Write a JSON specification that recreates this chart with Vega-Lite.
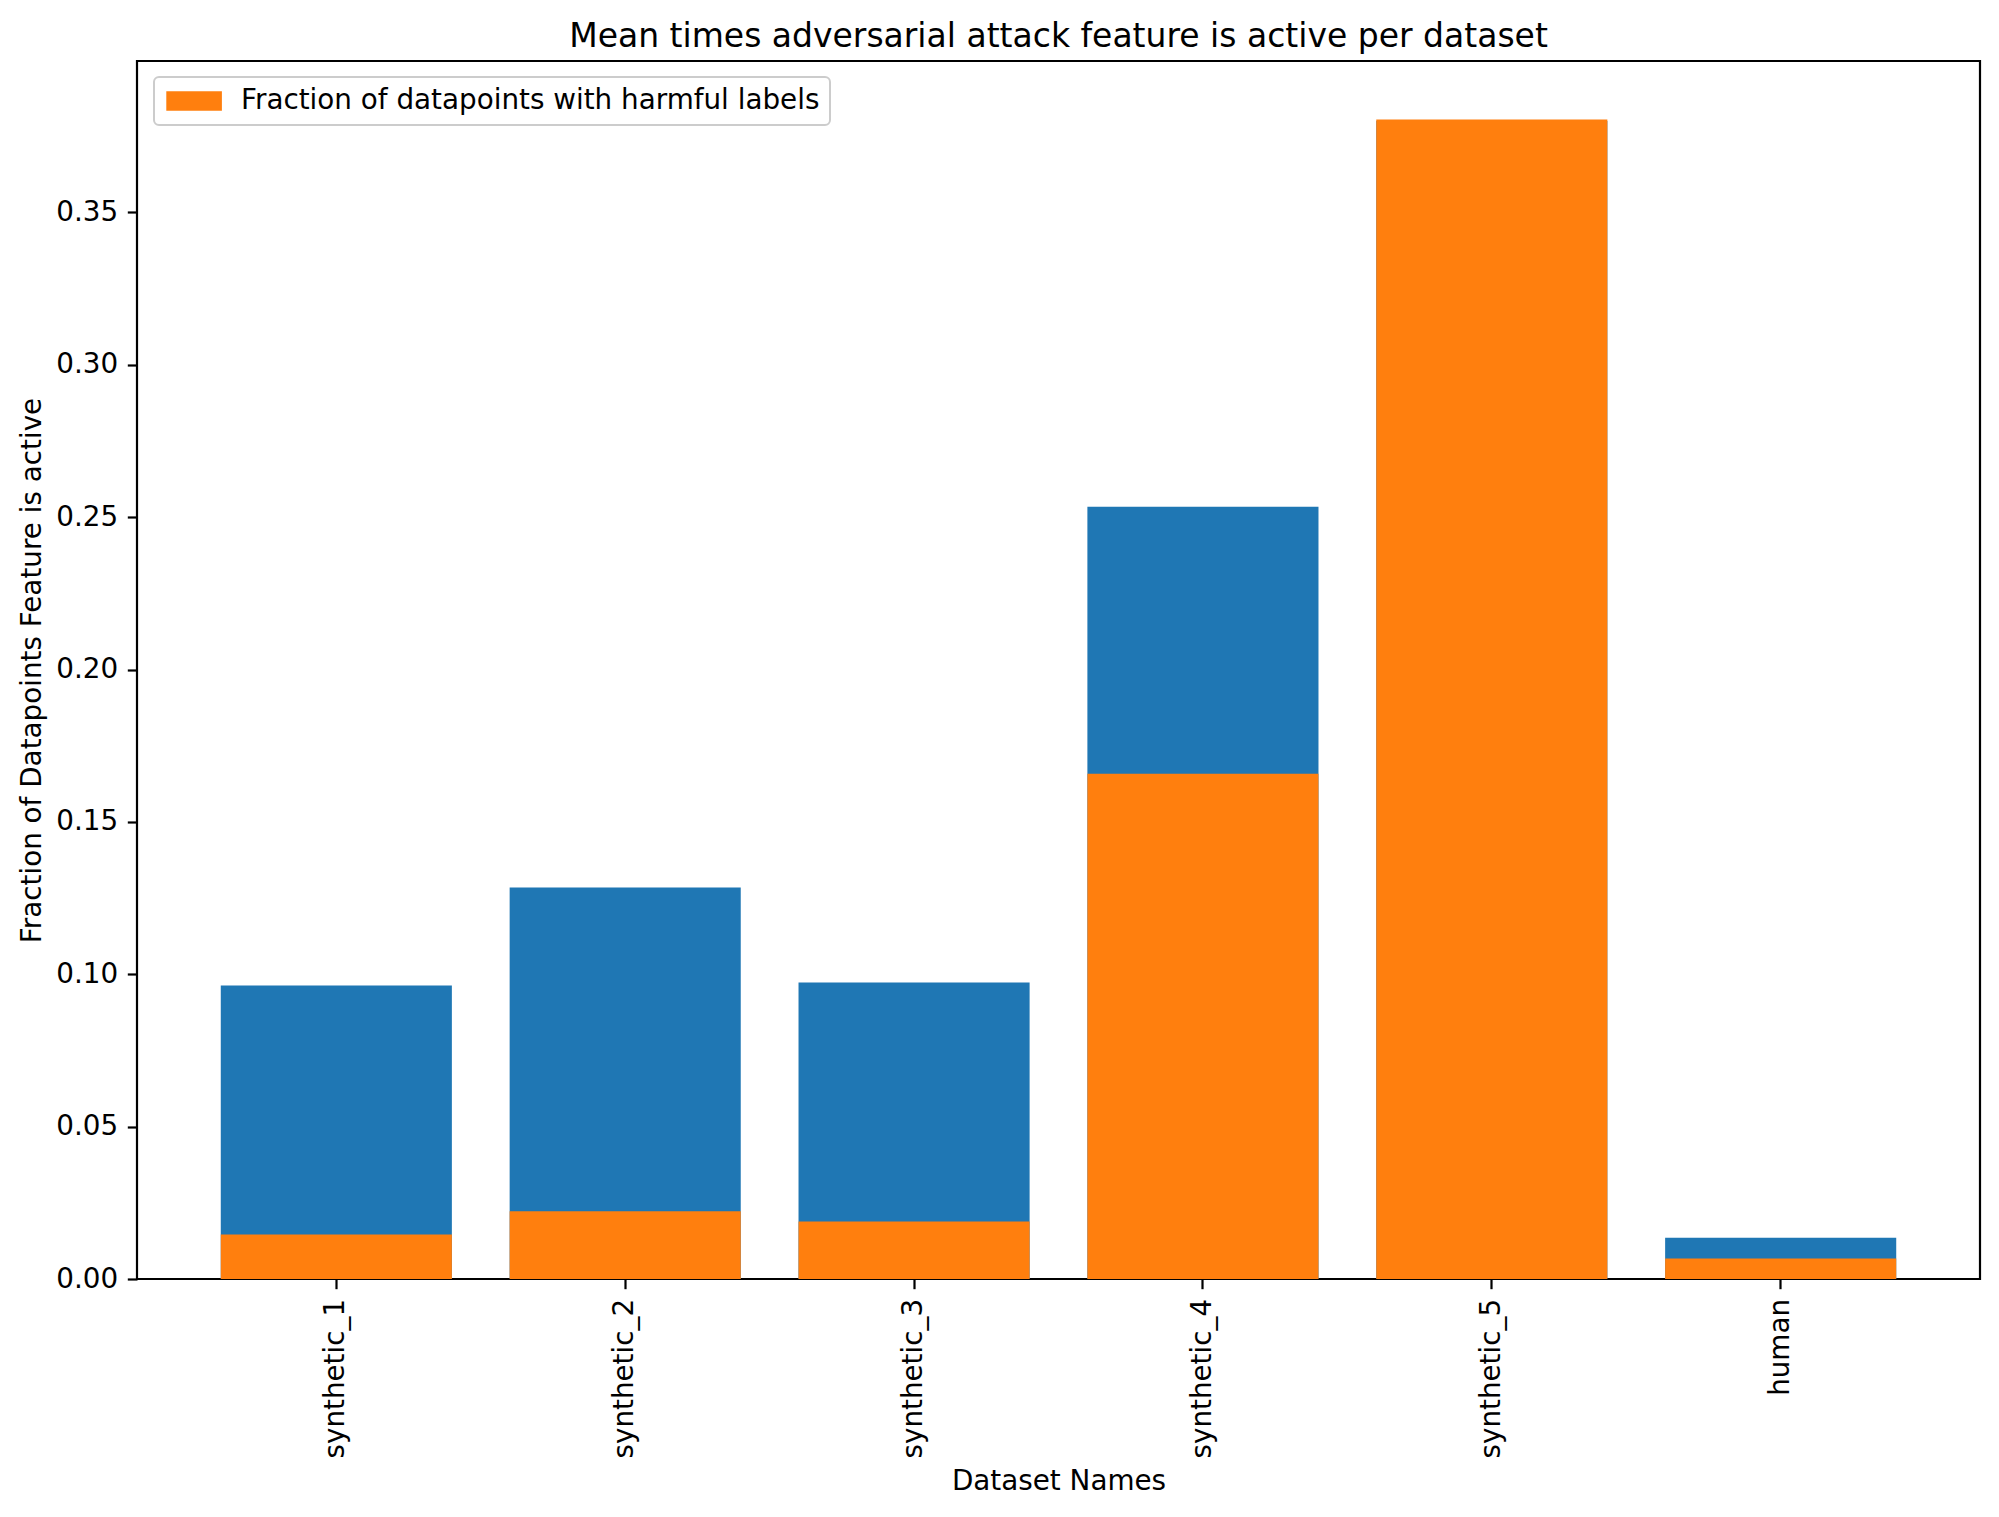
{
  "$schema": "https://vega.github.io/schema/vega-lite/v6.json",
  "width": 1843,
  "height": 1218,
  "autosize": {"type": "none"},
  "padding": {"left": 137, "top": 61, "right": 19, "bottom": 238},
  "background": "white",
  "title": {
    "text": "Mean times adversarial attack feature is active per dataset",
    "font": "DejaVu Sans",
    "fontSize": 33,
    "fontWeight": "normal",
    "color": "black",
    "anchor": "middle",
    "baseline": "alphabetic",
    "offset": -19
  },
  "config": {
    "view": {"stroke": "black", "strokeWidth": 2.2},
    "axis": {
      "labelFont": "DejaVu Sans",
      "titleFont": "DejaVu Sans",
      "labelFontSize": 27.8,
      "titleFontSize": 27.8,
      "labelColor": "black",
      "titleColor": "black",
      "titleFontWeight": "normal",
      "tickColor": "black",
      "tickWidth": 2.2,
      "tickSize": 9.7,
      "labelPadding": 9.7,
      "domain": false,
      "grid": false
    },
    "legend": {"strokeWidth": 2}
  },
  "data": {
    "values": [
      {"dataset": "synthetic_1", "active": 0.0963, "harmful": 0.0146},
      {"dataset": "synthetic_2", "active": 0.1285, "harmful": 0.0222},
      {"dataset": "synthetic_3", "active": 0.0973, "harmful": 0.0189},
      {"dataset": "synthetic_4", "active": 0.2534, "harmful": 0.1658},
      {"dataset": "synthetic_5", "active": 0.38, "harmful": 0.3805},
      {"dataset": "human", "active": 0.0135, "harmful": 0.0067}
    ]
  },
  "encoding": {
    "x": {
      "field": "dataset",
      "type": "nominal",
      "sort": null,
      "scale": {"paddingInner": 0.2, "paddingOuter": 0.29},
      "axis": {"title": "Dataset Names", "labelAngle": 270, "titleY": 202, "titleBaseline": "middle"}
    }
  },
  "layer": [
    {
      "mark": {"type": "bar", "color": "#1f77b4"},
      "encoding": {
        "y": {
          "field": "active",
          "type": "quantitative",
          "scale": {"domain": [0, 0.3997], "nice": false, "zero": true},
          "axis": {
            "title": "Fraction of Datapoints Feature is active",
            "values": [0, 0.05, 0.1, 0.15, 0.2, 0.25, 0.3, 0.35],
            "format": ".2f",
            "titleX": -105,
            "titleY": 609,
            "titleBaseline": "middle"
          }
        }
      }
    },
    {
      "mark": {"type": "bar"},
      "encoding": {
        "y": {"field": "harmful", "type": "quantitative"},
        "color": {
          "datum": "Fraction of datapoints with harmful labels",
          "type": "nominal",
          "scale": {"range": ["#ff7f0e"]},
          "legend": {
            "title": null,
            "orient": "none",
            "legendX": 17,
            "legendY": 16,
            "symbolType": "M-2.78,-0.975H2.78V0.975H-2.78Z",
            "symbolSize": 400,
            "symbolOffset": 16.2,
            "symbolStrokeWidth": 0,
            "symbolOpacity": 1,
            "labelFont": "DejaVu Sans",
            "labelFontSize": 27.8,
            "labelColor": "black",
            "labelLimit": 1000,
            "labelOffset": 33,
            "padding": 10,
            "strokeColor": "#cccccc",
            "fillColor": "white",
            "cornerRadius": 5
          }
        }
      }
    }
  ]
}
